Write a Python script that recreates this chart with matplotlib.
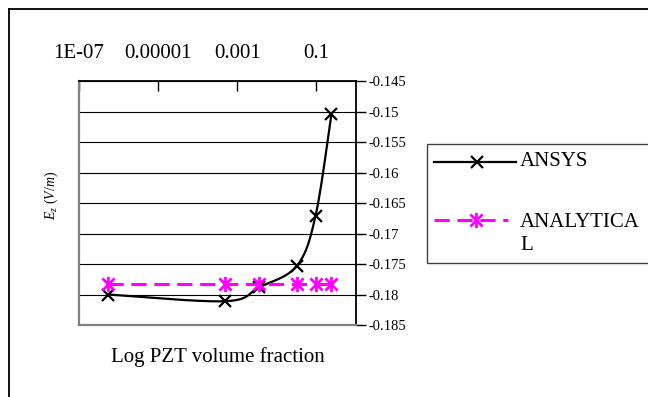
import numpy as np
import matplotlib.pyplot as plt
from matplotlib.path import Path
from matplotlib.lines import Line2D

plt.rcParams['font.family'] = ['Liberation Serif', 'DejaVu Serif']
plt.rcParams['mathtext.fontset'] = 'custom'
plt.rcParams['mathtext.it'] = 'Liberation Serif:italic'
plt.rcParams['mathtext.rm'] = 'Liberation Serif'
plt.rcParams['axes.unicode_minus'] = False

# data
volume_fraction = [5.4e-7, 5e-4, 3.6e-3, 0.032, 0.095, 0.24]
ansys_ez = [-0.1800, -0.1811, -0.1788, -0.1753, -0.1671, -0.1504]
analytical_ez = [-0.1783, -0.1783, -0.1783, -0.1783, -0.1783, -0.1783]
series_names = ["ANSYS", "ANALYTICA\nL"]

x_tick_values = [1e-7, 1e-5, 1e-3, 1e-1]
x_tick_labels = ["1E-07", "0.00001", "0.001", "0.1"]
y_tick_values = [-0.185, -0.18, -0.175, -0.17, -0.165, -0.16, -0.155, -0.15, -0.145]
y_tick_labels = ["-0.185", "-0.18", "-0.175", "-0.17", "-0.165", "-0.16", "-0.155", "-0.15", "-0.145"]

XMIN, XMAX = 1e-7, 1.0
YMIN, YMAX = -0.185, -0.145

MAGENTA = "#FF00FF"

# excel style asterisk: an x with a vertical bar
STAR = Path([(-1, -1), (1, 1), (-1, 1), (1, -1), (0, -1.25), (0, 1.25)],
            [Path.MOVETO, Path.LINETO] * 3)


def smooth(xs, ys, n=40):
    """Excel-like smoothed line (bezier, tension 1/6) in screen-ish space."""
    lx = np.log10(xs)
    u = (lx - np.log10(XMIN)) / (np.log10(XMAX) - np.log10(XMIN)) * 277
    v = (np.asarray(ys) - YMIN) / (YMAX - YMIN) * 244
    P = np.column_stack([u, v])
    out = []
    for i in range(len(P) - 1):
        p0 = P[max(i - 1, 0)]
        p1, p2 = P[i], P[i + 1]
        p3 = P[min(i + 2, len(P) - 1)]
        c1 = p1 + (p2 - p0) / 6
        c2 = p2 - (p3 - p1) / 6
        t = np.linspace(0, 1, n)[:, None]
        seg = (1 - t) ** 3 * p1 + 3 * (1 - t) ** 2 * t * c1 + 3 * (1 - t) * t ** 2 * c2 + t ** 3 * p2
        out.append(seg if i == 0 else seg[1:])
    S = np.vstack(out)
    sx = 10 ** (S[:, 0] / 277 * (np.log10(XMAX) - np.log10(XMIN)) + np.log10(XMIN))
    sy = S[:, 1] / 244 * (YMAX - YMIN) + YMIN
    return sx, sy


fig = plt.figure(figsize=(6.48, 3.97), dpi=100)
ax = fig.add_axes([79 / 648, 1 - 325 / 397, 277 / 648, 244 / 397])

ax.set_xscale("log")
ax.set_xlim(XMIN, XMAX)
ax.set_ylim(YMIN, YMAX)

ax.set_yticks(y_tick_values)
ax.set_yticklabels(y_tick_labels)
ax.yaxis.tick_right()
ax.tick_params(axis="y", direction="out", length=7, width=1, pad=2, labelsize=10.5)

ax.set_xticks(x_tick_values)
ax.set_xticklabels(x_tick_labels)
ax.xaxis.set_minor_locator(plt.NullLocator())
ax.xaxis.tick_top()
ax.tick_params(axis="x", direction="in", length=7, width=1, pad=13, labelsize=15)

ax.grid(True, axis="y", color="black", linewidth=0.8)
ax.set_axisbelow(True)
for side in ("left", "bottom"):
    ax.spines[side].set_color("#808080")
    ax.spines[side].set_linewidth(1.6)
for side in ("top", "right"):
    ax.spines[side].set_color("black")
    ax.spines[side].set_linewidth(1.3)

# ANSYS - smoothed black line with x markers
sx, sy = smooth(volume_fraction, ansys_ez)
ax.plot(sx, sy, color="black", linewidth=1.6, zorder=3)
ax.plot(volume_fraction, ansys_ez, ls="none", marker="x", color="black",
        markersize=9, markeredgewidth=1.6, zorder=3)

# ANALYTICAL - magenta dashed with asterisks
ax.plot(volume_fraction, analytical_ez, color=MAGENTA, linewidth=2.2,
        dashes=(5, 2.5), marker=STAR, markersize=11, markeredgewidth=2.0,
        zorder=4, clip_on=False)

fig.text(218 / 648, 1 - 357 / 397, "Log PZT volume fraction", ha="center", va="center", fontsize=15)
fig.text(51 / 648, 1 - 195 / 397, r"$E_z\ (V/m)$", rotation=90, ha="center", va="center", fontsize=10)

# legend box
fig.add_artist(plt.Rectangle((427 / 648, 1 - 263 / 397), 0.5, 119 / 397,
                             transform=fig.transFigure, fill=False,
                             edgecolor="#404040", linewidth=1.0))
fig.add_artist(Line2D([434 / 648, 516 / 648], [1 - 162 / 397] * 2, color="black",
                      linewidth=1.6, transform=fig.transFigure))
fig.add_artist(Line2D([477 / 648], [1 - 162 / 397], color="black", marker="x",
                      markersize=9, markeredgewidth=1.6, transform=fig.transFigure))
fig.text(520 / 648, 1 - 162 / 397, series_names[0], ha="left", va="center", fontsize=15)

fig.add_artist(Line2D([434 / 648, 508 / 648], [1 - 220 / 397] * 2, color=MAGENTA,
                      linewidth=2.2, dashes=(5, 2.5), transform=fig.transFigure))
fig.add_artist(Line2D([476 / 648], [1 - 220 / 397], color=MAGENTA, marker=STAR,
                      markersize=11, markeredgewidth=2.0, transform=fig.transFigure))
fig.text(520 / 648, 1 - 234 / 397, series_names[1], ha="left", va="center",
         fontsize=15, linespacing=1.3)

# outer chart frame
fig.add_artist(Line2D([9 / 648, 1.0], [1 - 9 / 397] * 2, color="black", linewidth=1.3,
                      transform=fig.transFigure))
fig.add_artist(Line2D([9 / 648] * 2, [0, 1 - 9 / 397], color="black", linewidth=1.3,
                      transform=fig.transFigure))

fig.savefig("out.png", dpi=100)
